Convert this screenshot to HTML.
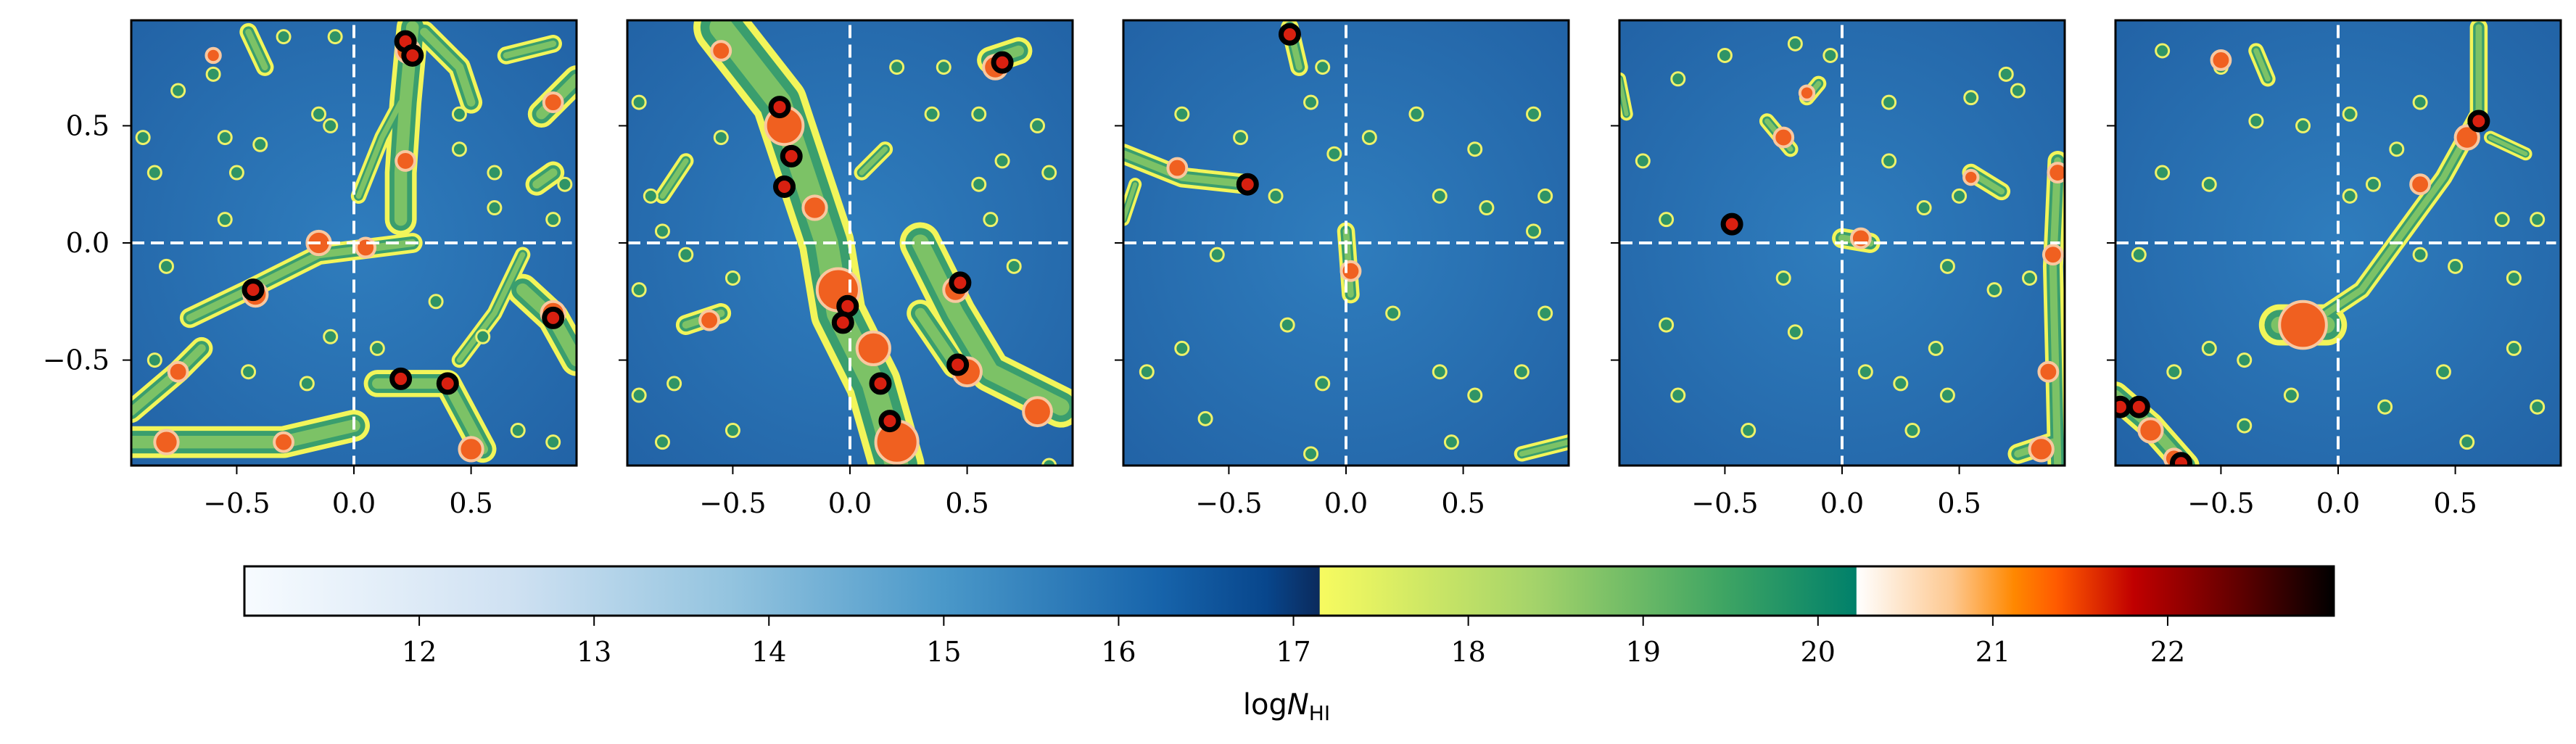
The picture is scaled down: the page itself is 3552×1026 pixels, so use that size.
<!DOCTYPE html>
<html><head><meta charset="utf-8"><style>
html,body{margin:0;padding:0;background:#fff;}
svg{display:block;}
</style></head><body>
<svg id="fig" width="3552" height="1026" xmlns="http://www.w3.org/2000/svg">
<defs>
<linearGradient id="gBlue" x1="0" x2="1" y1="0" y2="0">
<stop offset="0" stop-color="#f7fbff"/><stop offset="0.25" stop-color="#cfe1f2"/><stop offset="0.45" stop-color="#94c4df"/><stop offset="0.65" stop-color="#4a98c9"/><stop offset="0.85" stop-color="#1764ab"/><stop offset="0.95" stop-color="#08468c"/><stop offset="1" stop-color="#0b2a5c"/>
</linearGradient>
<linearGradient id="gGreen" x1="0" x2="1" y1="0" y2="0">
<stop offset="0" stop-color="#f7fb60"/><stop offset="0.4" stop-color="#a4d36a"/><stop offset="0.75" stop-color="#3fa563"/><stop offset="1" stop-color="#00806a"/>
</linearGradient>
<linearGradient id="gRed" x1="0" x2="1" y1="0" y2="0">
<stop offset="0" stop-color="#ffffff"/><stop offset="0.2" stop-color="#fdc890"/><stop offset="0.33" stop-color="#ff8800"/><stop offset="0.42" stop-color="#ff5a00"/><stop offset="0.58" stop-color="#c00000"/><stop offset="0.8" stop-color="#600000"/><stop offset="1" stop-color="#000000"/>
</linearGradient>
<radialGradient id="bgGrad" cx="0.5" cy="0.5" r="0.7">
<stop offset="0" stop-color="#2f7dbd"/><stop offset="1" stop-color="#2263a6"/>
</radialGradient>
</defs>
<g id="panels"></g>
<g id="cbar"></g>
</svg>
<script>
const tickValues = [-0.5, 0.0, 0.5];
const tickLabels = ["\u22120.5", "0.0", "0.5"];
const cbarTicks = [12,13,14,15,16,17,18,19,20,21,22];
const cbarRange = [11, 22.95];
const cbarBreaks = [17.15, 20.22];
const fil1 = [[[0.25,0.92,0.22,0.6,0.2,0.3,0.2,0.1],0.12],[[0.02,0.2,0.12,0.45,0.2,0.6],0.05],[[0.3,0.9,0.45,0.75,0.5,0.6],0.08],[[-0.7,-0.32,-0.45,-0.2,-0.15,-0.05,0.25,0.0],0.07],[[-0.95,-0.85,-0.6,-0.85,-0.3,-0.85,0.0,-0.78],0.12],[[-0.95,-0.72,-0.75,-0.55,-0.65,-0.45],0.08],[[0.1,-0.6,0.4,-0.6,0.55,-0.88],0.1],[[0.45,-0.5,0.6,-0.3,0.72,-0.05],0.05],[[0.72,-0.2,0.85,-0.32,0.95,-0.5],0.12],[[0.8,0.55,0.95,0.7],0.1],[[0.78,0.25,0.85,0.3],0.08],[[-0.45,0.9,-0.38,0.75],0.06],[[0.65,0.8,0.85,0.85],0.06]];
const fil2 = [[[-0.55,0.92,-0.3,0.6,-0.2,0.3,-0.1,0.0,-0.05,-0.3,0.1,-0.6,0.2,-0.95],0.22],[[0.3,0.0,0.45,-0.3,0.6,-0.55,0.9,-0.7],0.16],[[0.3,-0.3,0.45,-0.52],0.1],[[0.6,0.78,0.72,0.82],0.1],[[-0.7,-0.35,-0.55,-0.3],0.07],[[0.05,0.3,0.15,0.4],0.05],[[-0.8,0.2,-0.7,0.35],0.05]];
const fil3 = [[[-0.95,0.38,-0.7,0.28,-0.42,0.25],0.07],[[-0.24,0.92,-0.2,0.75],0.06],[[0.0,0.05,0.02,-0.22],0.06],[[0.75,-0.9,0.95,-0.85],0.05],[[-0.95,0.1,-0.9,0.25],0.04]];
const fil4 = [[[-0.32,0.52,-0.22,0.4],0.05],[[-0.15,0.62,-0.1,0.68],0.05],[[0.0,0.02,0.12,0.0],0.07],[[0.92,0.35,0.9,-0.1,0.92,-0.95],0.07],[[0.75,-0.9,0.9,-0.85],0.07],[[0.55,0.3,0.68,0.22],0.06],[[-0.95,0.7,-0.92,0.55],0.04]];
const fil5 = [[[0.6,0.92,0.6,0.55,0.45,0.28,0.1,-0.2,-0.2,-0.4],0.06],[[-0.25,-0.35,-0.05,-0.35],0.16],[[-0.95,-0.65,-0.8,-0.78,-0.65,-0.95],0.1],[[-0.35,0.82,-0.3,0.7],0.05],[[0.65,0.45,0.8,0.38],0.04]];
const filaments = [fil1, fil2, fil3, fil4, fil5];
const halo1 = [[-0.6,0.72],[-0.75,0.65],[-0.9,0.45],[-0.55,0.45],[-0.4,0.42],[-0.5,0.3],[-0.85,0.3],[-0.15,0.55],[-0.1,0.5],[0.6,0.3],[0.45,0.4],[0.6,0.15],[-0.55,0.1],[0.55,-0.4],[-0.1,-0.4],[-0.85,-0.5],[-0.45,-0.55],[-0.2,-0.6],[0.7,-0.8],[0.85,-0.85],[0.9,0.25],[-0.3,0.88],[-0.08,0.88],[0.1,-0.45],[0.35,-0.25],[-0.8,-0.1],[0.45,0.55],[0.85,0.1]];
const halo2 = [[0.55,0.55],[0.65,0.35],[0.35,0.55],[0.55,0.25],[0.8,0.5],[0.6,0.1],[-0.85,0.2],[-0.8,0.05],[-0.9,-0.2],[-0.7,-0.05],[-0.5,-0.15],[-0.75,-0.6],[-0.9,-0.65],[-0.5,-0.8],[-0.8,-0.85],[0.85,0.3],[0.2,0.75],[0.4,0.75],[-0.9,0.6],[0.85,-0.95],[0.7,-0.1],[-0.55,0.45]];
const halo3 = [[-0.7,0.55],[-0.45,0.45],[-0.15,0.6],[-0.1,0.75],[0.3,0.55],[0.55,0.4],[0.8,0.55],[0.6,0.15],[0.85,0.2],[0.8,0.05],[-0.55,-0.05],[-0.3,0.2],[-0.7,-0.45],[-0.25,-0.35],[0.2,-0.3],[0.4,-0.55],[0.85,-0.3],[-0.6,-0.75],[-0.1,-0.6],[0.55,-0.65],[0.75,-0.55],[-0.15,-0.9],[0.45,-0.85],[0.1,0.45],[-0.05,0.38],[0.4,0.2],[-0.85,-0.55]];
const halo4 = [[-0.7,0.7],[-0.5,0.8],[-0.2,0.85],[-0.05,0.8],[0.2,0.6],[0.55,0.62],[0.7,0.72],[0.75,0.65],[-0.85,0.35],[0.2,0.35],[0.35,0.15],[0.5,0.2],[-0.75,0.1],[-0.25,-0.15],[-0.2,-0.38],[-0.75,-0.35],[0.4,-0.45],[0.45,-0.65],[0.1,-0.55],[0.25,-0.6],[-0.7,-0.65],[0.65,-0.2],[0.8,-0.15],[0.45,-0.1],[-0.4,-0.8],[0.3,-0.8]];
const halo5 = [[-0.75,0.82],[-0.5,0.75],[-0.35,0.52],[-0.15,0.5],[0.05,0.55],[0.35,0.6],[0.25,0.4],[0.05,0.2],[0.15,0.25],[-0.75,0.3],[-0.55,0.25],[-0.85,-0.05],[-0.55,-0.45],[-0.7,-0.55],[-0.4,-0.5],[0.35,-0.05],[0.5,-0.1],[0.75,-0.15],[0.45,-0.55],[0.75,-0.45],[0.85,-0.7],[-0.4,-0.78],[0.2,-0.7],[0.55,-0.85],[0.85,0.1],[0.7,0.1],[-0.2,-0.65]];
const halos = [halo1, halo2, halo3, halo4, halo5];
const core1 = [[0.23,0.82,0.05],[0.22,0.35,0.04],[-0.15,0.0,0.05],[0.05,-0.02,0.04],[-0.75,-0.55,0.04],[-0.8,-0.85,0.05],[-0.3,-0.85,0.04],[0.5,-0.88,0.05],[0.85,0.6,0.04],[0.85,-0.3,0.05],[-0.42,-0.22,0.05],[-0.6,0.8,0.03]];
const core2 = [[-0.28,0.5,0.08],[-0.15,0.15,0.05],[-0.05,-0.2,0.09],[0.1,-0.45,0.07],[0.2,-0.85,0.09],[0.5,-0.55,0.06],[0.8,-0.72,0.06],[0.45,-0.2,0.05],[0.62,0.75,0.05],[-0.6,-0.33,0.04],[-0.55,0.82,0.04]];
const core3 = [[0.02,-0.12,0.04],[-0.72,0.32,0.04],[-0.42,0.25,0.03]];
const core4 = [[-0.25,0.45,0.04],[-0.15,0.64,0.03],[0.08,0.02,0.04],[0.92,0.3,0.04],[0.9,-0.05,0.04],[0.88,-0.55,0.04],[0.85,-0.88,0.05],[0.55,0.28,0.03]];
const core5 = [[-0.15,-0.35,0.1],[0.55,0.45,0.05],[0.35,0.25,0.04],[-0.8,-0.8,0.05],[-0.7,-0.92,0.04],[-0.5,0.78,0.04]];
const cores = [core1, core2, core3, core4, core5];
const src1 = [[0.22,0.86],[0.25,0.8],[-0.43,-0.2],[0.2,-0.58],[0.4,-0.6],[0.85,-0.32]];
const src2 = [[-0.3,0.58],[-0.25,0.37],[-0.28,0.24],[-0.01,-0.27],[-0.03,-0.34],[0.47,-0.17],[0.46,-0.52],[0.13,-0.6],[0.17,-0.76],[0.65,0.77]];
const src3 = [[-0.42,0.25],[-0.24,0.89]];
const src4 = [[-0.47,0.08]];
const src5 = [[0.6,0.52],[-0.93,-0.7],[-0.85,-0.7],[-0.67,-0.94]];
const sources = [src1, src2, src3, src4, src5];

const NS = "http://www.w3.org/2000/svg";
const P0 = 181, PSTEP = 684, PW = 614, PT = 28, PH = 614, DMIN = -0.95, DMAX = 0.95;
function mk(tag, attrs, parent){const e=document.createElementNS(NS,tag);for(const k in attrs)e.setAttribute(k,attrs[k]);if(parent)parent.appendChild(e);return e;}
const panels = document.getElementById('panels');
for(let i=0;i<5;i++){
  const L = P0 + PSTEP*i;
  const xs = v => L + (v-DMIN)/(DMAX-DMIN)*PW;
  const ys = v => PT + (DMAX-v)/(DMAX-DMIN)*PH;
  const sc = PW/(DMAX-DMIN);
  const g = mk('g',{},panels);
  
  
  const cp = mk('clipPath',{id:'cp'+i},g);
  mk('rect',{x:L,y:PT,width:PW,height:PH},cp);
  const img = mk('g',{'clip-path':'url(#cp'+i+')'},g);
  
  
  mk('rect',{x:L,y:PT,width:PW,height:PH,fill:'url(#bgGrad)'},img);
  for(const layer of [['#f2f55a',1.0,0.016],['#3a9e6e',0.8,0],['#7cc266',0.45,0]]){
    filaments[i].forEach(f=>{
      const pts=[];for(let k=0;k<f[0].length;k+=2)pts.push(xs(f[0][k])+','+ys(f[0][k+1]));
      const p = mk('polyline',{points:pts.join(' '),fill:'none',stroke:layer[0],'stroke-width':(f[1]*layer[1]+layer[2])*sc,'stroke-linecap':'round','stroke-linejoin':'round'},img);
      
      
    });
  }
  halos[i].forEach(h=>{
    const c = mk('circle',{cx:xs(h[0]),cy:ys(h[1]),r:9,fill:'#2f9466',stroke:'#eef26a','stroke-width':3},img);
    
    
  });
  cores[i].forEach(c0=>{
    const c = mk('circle',{cx:xs(c0[0]),cy:ys(c0[1]),r:c0[2]*sc,fill:'#f06020',stroke:'#f8c8a0','stroke-width':4},img);
    
    
  });
  const v = mk('line',{x1:xs(0),x2:xs(0),y1:ys(0.93),y2:ys(-0.95),stroke:'#fff','stroke-width':4,'stroke-dasharray':'18 9'},img);
  
  
  const hl = mk('line',{x1:xs(-0.95),x2:xs(0.93),y1:ys(0),y2:ys(0),stroke:'#fff','stroke-width':4,'stroke-dasharray':'18 9'},img);
  
  
  sources[i].forEach(s=>{
    const c = mk('circle',{cx:xs(s[0]),cy:ys(s[1]),r:12,fill:'#d82010',stroke:'#000','stroke-width':7},img);
    
    
  });
  const fr = mk('rect',{x:L,y:PT,width:PW,height:PH,fill:'none',stroke:'#000','stroke-width':3},g);
  
  
  tickValues.forEach((t,k)=>{
    const tx = mk('line',{x1:xs(t),x2:xs(t),y1:PT+PH,y2:PT+PH+12,stroke:'#000','stroke-width':2},g);
    
    
    const lb = mk('text',{x:xs(t),y:707,'text-anchor':'middle','font-size':38,'font-family':'DejaVu Serif, Liberation Serif, serif'},g);
    lb.textContent = tickLabels[k];
    
    
    const ty = mk('line',{x1:L-12,x2:L,y1:ys(t),y2:ys(t),stroke:'#000','stroke-width':2},g);
    
    
    if(i===0){
      const yl = mk('text',{x:L-30,y:ys(t)+13,'text-anchor':'end','font-size':38,'font-family':'DejaVu Serif, Liberation Serif, serif'},g);
      yl.textContent = tickLabels[k];
      
      
    }
  });
}
const cb = document.getElementById('cbar');
const CBL=337, CBR=3218, CBT=781, CBB=849;
const cx = v => CBL + (v-cbarRange[0])/(cbarRange[1]-cbarRange[0])*(CBR-CBL);
const segs = [[cbarRange[0],cbarBreaks[0],'url(#gBlue)'],[cbarBreaks[0],cbarBreaks[1],'url(#gGreen)'],[cbarBreaks[1],cbarRange[1],'url(#gRed)']];
segs.forEach(s=>{
  const r = mk('rect',{x:cx(s[0]),y:CBT,width:cx(s[1])-cx(s[0])+0.5,height:CBB-CBT,fill:s[2]},cb);
  
  
});
const cbf = mk('rect',{x:CBL,y:CBT,width:CBR-CBL,height:CBB-CBT,fill:'none',stroke:'#000','stroke-width':3},cb);


cbarTicks.forEach(t=>{
  const tl = mk('line',{x1:cx(t),x2:cx(t),y1:CBB,y2:CBB+14,stroke:'#000','stroke-width':2},cb);
  
  
  const tt = mk('text',{x:cx(t),y:912,'text-anchor':'middle','font-size':38,'font-family':'DejaVu Serif, Liberation Serif, serif'},cb);
  tt.textContent = String(t);
  
  
});
const lab = mk('text',{x:1774,y:985,'text-anchor':'middle','font-size':40,'font-family':'DejaVu Sans, Liberation Sans, sans-serif'},cb);


lab.innerHTML = 'log<tspan font-style="italic">N</tspan><tspan font-size="28" dy="8">HI</tspan>';
</script>
</body></html>
